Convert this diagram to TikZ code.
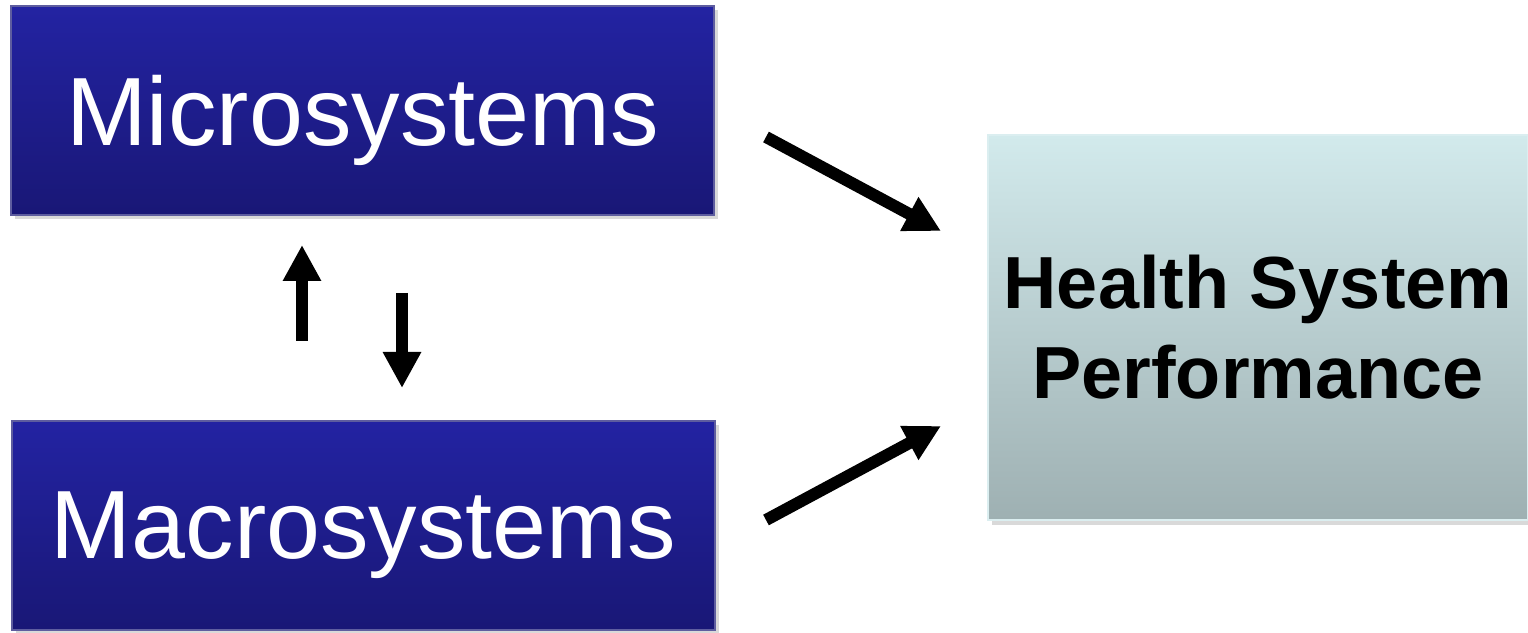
\documentclass[tikz,border=0pt]{standalone}
\usepackage{fontspec}
\setmainfont{Liberation Sans}
\usetikzlibrary{arrows.meta, calc, shadows}
\definecolor{sysBlueTop}{RGB}{35,35,162}
\definecolor{sysBlueBot}{RGB}{25,23,118}
\definecolor{perfTop}{RGB}{210,234,236}
\definecolor{perfBot}{RGB}{158,176,178}
\tikzset{
  sysbox/.style={rectangle, minimum width=7.03cm, minimum height=2.09cm, inner sep=0,
    top color=sysBlueTop, bottom color=sysBlueBot, draw=sysBlueBot!70!white,
    drop shadow={shadow xshift=0.04cm, shadow yshift=-0.04cm, opacity=0.3},
    text=white, text depth=0pt, font=\fontsize{27.6}{32}\selectfont},
  perfbox/.style={rectangle, minimum width=5.4cm, minimum height=3.85cm, inner sep=0,
    top color=perfTop, bottom color=perfBot, draw=perfTop!80!white, align=center,
    drop shadow={shadow xshift=0.04cm, shadow yshift=-0.05cm, opacity=0.3},
    font=\fontsize{21}{25.6}\selectfont\bfseries},
  bigarrow/.style={line width=0.12cm, -{Triangle[length=0.36cm, width=0.36cm]}}
}

\begin{document}
\begin{tikzpicture}
  \useasboundingbox (0,0) rectangle (15.28,-6.33);

  \node[sysbox] (micro) at (3.625,-1.105) {Microsystems};
  \node[sysbox] (macro) at (3.635,-5.255) {Macrosystems};
  \node[perfbox] (perf) at (12.58,-3.275) {Health System\\Performance};

  \coordinate (microOut) at (7.66,-1.37);
  \coordinate (macroOut) at (7.66,-5.2);
  \coordinate (perfInTop) at (9.41,-2.31);
  \coordinate (perfInBot) at (9.41,-4.26);
  \coordinate (upTail) at (3.02,-3.41);
  \coordinate (upTip) at (3.02,-2.45);
  \coordinate (downTail) at (4.02,-2.93);
  \coordinate (downTip) at (4.02,-3.88);

  \draw[bigarrow] (microOut) -- (perfInTop);
  \draw[bigarrow] (macroOut) -- (perfInBot);
  \draw[bigarrow] (upTail) -- (upTip);
  \draw[bigarrow] (downTail) -- (downTip);
\end{tikzpicture}
\end{document}
